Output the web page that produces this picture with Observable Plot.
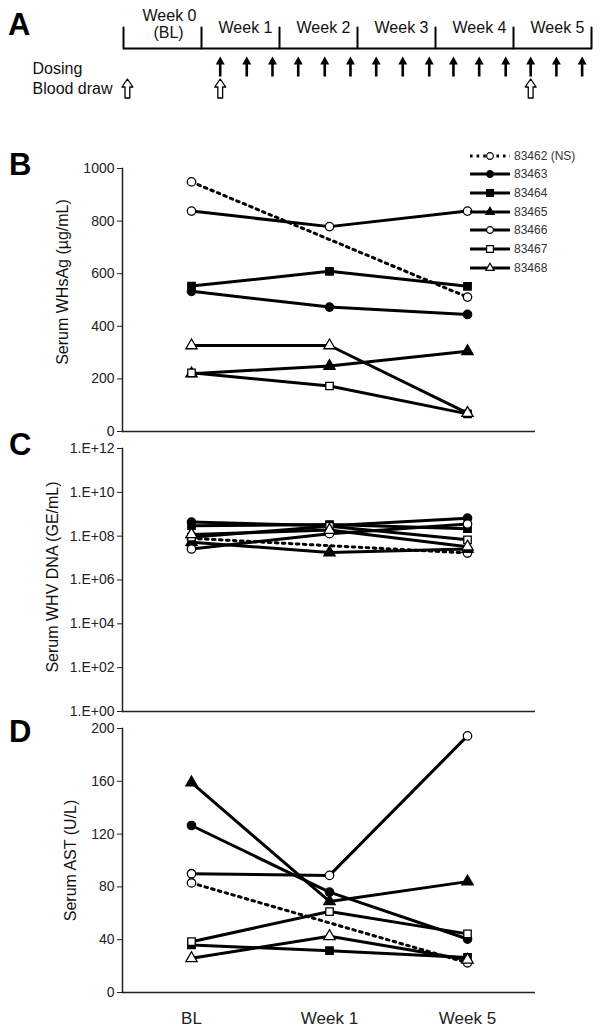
<!DOCTYPE html>
<html><head><meta charset="utf-8">
<script src="https://cdn.jsdelivr.net/npm/d3@7"></script>
<script src="https://cdn.jsdelivr.net/npm/@observablehq/plot@0.6"></script>
<style>
body{margin:0;background:#fff;}
#root{position:relative;width:601px;height:1032px;overflow:hidden;font-family:"Liberation Sans",Arial,sans-serif;color:#222;}
.panel{position:absolute;left:0;}
.letter{position:absolute;font-weight:bold;font-size:31px;line-height:1;color:#000;}
.lrow{position:absolute;left:470px;height:16px;font-size:12px;line-height:16px;color:#333;white-space:nowrap;}
.lrow svg{position:absolute;left:0;top:0;}
.lrow span{position:absolute;left:44px;top:0;}
</style></head><body><div id="root"></div>
<script>
// ---------- data ----------
const animals = ["83462 (NS)","83463","83464","83465","83466","83467","83468"];
const markerSymbols = ["circle","circle","square","triangle","circle","square","triangle"];
const markerFills = ["white","black","black","black","white","white","white"];
const timepoints = ["BL","Week 1","Week 5"];

// Panel B: serum WHsAg (µg/mL), rows follow animals, columns follow timepoints
const whsagValues = [
  [949, null, 511],
  [533, 473, 445],
  [553, 609, 552],
  [220, 249, 305],
  [838, 779, 838],
  [223, 173, 67],
  [327, 327, 70]
];
const whsagTicks = [0, 200, 400, 600, 800, 1000];

// Panel C: serum WHV DNA (GE/mL)
const dnaValues = [
  [8.0e7, null, 1.7e7],
  [4.4e8, 3.0e8, 6.6e8],
  [3.0e8, 3.4e8, 2.2e8],
  [5.3e7, 1.8e7, 2.6e7],
  [2.6e7, 1.3e8, 3.6e8],
  [9.0e7, 2.8e8, 6.8e7],
  [1.2e8, 1.9e8, 3.3e7]
];
const dnaTicks = [1, 1e2, 1e4, 1e6, 1e8, 1e10, 1e12];

// Panel D: serum AST (U/L)
const astValues = [
  [83, null, 22.5],
  [126.5, 76, 40.5],
  [36, 31.7, 26.6],
  [159, 69, 84],
  [90, 88.7, 194.4],
  [38.5, 61.3, 44.4],
  [25.9, 42.6, 24.8]
];
const astTicks = [0, 40, 80, 120, 160, 200];

// Panel A: study schedule (in weeks)
const weekBounds = [0, 1, 2, 3, 4, 5, 6];
const weekLabels = ["Week 0", "Week 1", "Week 2", "Week 3", "Week 4", "Week 5"];
const baselineSubLabel = ["(BL)"];
const dosingWeeks = [1.24, 1.58, 1.91, 2.24, 2.58, 2.91, 3.24, 3.58, 3.92, 4.23, 4.56, 4.90, 5.22, 5.55, 5.88];
const bloodDrawWeeks = [0.05, 1.24, 5.22];
const rowLabels = ["Dosing", "Blood draw"];

// ---------- rendering ----------
const FONT = '"Liberation Sans", Arial, sans-serif';
const root = document.getElementById("root");

function place(el, top) {
  const wrap = document.createElement("div");
  wrap.className = "panel";
  wrap.style.top = top + "px";
  wrap.appendChild(el);
  root.appendChild(wrap);
}

// Panel A
const tickShape = {draw(c, l) { c.moveTo(0, 0); c.lineTo(0, -l); }};
const solidArrow = {draw(c, l) {
  const hw = 4.5, hh = 8, sw = 1.3;
  c.moveTo(-sw, 0); c.lineTo(-sw, -l + hh); c.lineTo(-hw, -l + hh); c.lineTo(0, -l);
  c.lineTo(hw, -l + hh); c.lineTo(sw, -l + hh); c.lineTo(sw, 0); c.closePath();
}};
const hollowArrow = {draw(c, l) {
  const hw = 5.5, hh = 8, sw = 2.4;
  c.moveTo(-sw, 0); c.lineTo(-sw, -l + hh); c.lineTo(-hw, -l + hh); c.lineTo(0, -l);
  c.lineTo(hw, -l + hh); c.lineTo(sw, -l + hh); c.lineTo(sw, 0); c.closePath();
}};

const panelA = Plot.plot({
  width: 601, height: 115, marginLeft: 123, marginRight: 10, marginTop: 0, marginBottom: 0,
  style: {fontFamily: FONT, color: "#000", background: "white"},
  x: {domain: [0, 6], axis: null},
  y: {type: "point", domain: ["timeline", ...rowLabels], range: [48, 88], padding: 0, axis: null},
  marks: [
    Plot.ruleY(["timeline"], {y: d => d, stroke: "#000", strokeWidth: 2}),
    Plot.vector(weekBounds, {x: d => d, y: () => "timeline", length: 21, rotate: 0, anchor: "start",
      shape: tickShape, stroke: "#000", strokeWidth: 2}),
    Plot.text(weekLabels, {filter: (d, i) => i > 0, x: (d, i) => weekBounds[i] + 0.5, y: () => "timeline",
      text: d => d, dx: 5, dy: -16, lineAnchor: "bottom", fontSize: 16, fill: "#111"}),
    Plot.text(weekLabels, {filter: (d, i) => i === 0, x: (d, i) => weekBounds[i] + 0.5, y: () => "timeline",
      text: d => d, dx: 7, dy: -28, lineAnchor: "bottom", fontSize: 16, fill: "#111"}),
    Plot.text(baselineSubLabel, {x: () => weekBounds[0] + 0.5, y: () => "timeline",
      text: d => d, dx: 6, dy: -11, lineAnchor: "bottom", fontSize: 16, fill: "#111"}),
    Plot.vector(dosingWeeks, {x: d => d, y: () => "Dosing", anchor: "middle", length: 20, rotate: 0,
      shape: solidArrow, fill: "#000", stroke: "none", dy: -2}),
    Plot.vector(bloodDrawWeeks, {x: d => d, y: () => "Blood draw", anchor: "middle", length: 19, rotate: 0,
      shape: hollowArrow, fill: "white", stroke: "#000", strokeWidth: 1.3}),
    Plot.text(rowLabels, {y: d => d, frameAnchor: "left", dx: -91, textAnchor: "start", fontSize: 16,
      text: d => d, fill: "#111"})
  ]
});
place(panelA, 0);

function tidy(values) {
  const out = [];
  animals.forEach((a, i) => timepoints.forEach((t, j) => {
    const v = values[i][j];
    if (v != null) out.push({animal: a, time: t, value: v, symbol: markerSymbols[i], fill: markerFills[i], ns: i === 0});
  }));
  return out;
}

function panel(o) {
  const data = tidy(o.values);
  const marks = [
    Plot.frame({anchor: "left", stroke: "#222", strokeWidth: 1.5}),
    Plot.ruleY([o.base], {stroke: "#222", strokeWidth: 1.5}),
    Plot.axisY({ticks: o.ticks, tickFormat: o.tickFormat, tickSize: 5, tickPadding: 3, label: null, fontSize: 14}),
    Plot.line(data.filter(d => d.ns), {x: "time", y: "value", stroke: "#000", strokeWidth: 3, strokeDasharray: "2.6,4.4"}),
    Plot.line(data.filter(d => !d.ns), {x: "time", y: "value", z: "animal", stroke: "#000", strokeWidth: 3}),
    Plot.dot(data, {x: "time", y: "value", symbol: d => d.symbol, fill: d => d.fill, stroke: "#000", strokeWidth: 1.3, r: 4.2}),
    Plot.text([o.label], {frameAnchor: "left", textAnchor: "middle", dx: o.labelDx, dy: o.labelDy, rotate: -90,
      fontSize: 16, text: d => d, fill: "#111"})
  ];
  if (o.xAxis) marks.push(Plot.axisX({tickSize: 0, tickPadding: 19, fontSize: 17, label: null}));
  return Plot.plot({
    width: 601, height: o.height, marginLeft: 122, marginRight: 66, marginTop: o.mt, marginBottom: o.mb,
    style: {fontFamily: FONT, color: "#222", background: "white", overflow: "visible"},
    x: {type: "point", domain: timepoints, padding: 0.49, axis: o.xAxis ? undefined : null},
    y: {type: o.type, domain: o.domain},
    marks
  });
}

place(panel({values: whsagValues, type: "linear", domain: [0, 1000], ticks: whsagTicks, base: 0,
  tickFormat: d => String(d),
  label: "Serum WHsAg (µg/mL)", labelDx: -60, labelDy: -18, height: 300, mt: 28, mb: 9}), 140);

place(panel({values: dnaValues, type: "log", domain: [1, 1e12], ticks: dnaTicks, base: 1,
  tickFormat: d => "1.E+" + String(Math.round(Math.log10(d))).padStart(2, "0"),
  label: "Serum WHV DNA (GE/mL)", labelDx: -70, labelDy: -3, height: 280, mt: 8, mb: 9}), 440);

place(panel({values: astValues, type: "linear", domain: [0, 200], ticks: astTicks, base: 0,
  tickFormat: d => String(d),
  label: "Serum AST (U/L)", labelDx: -52, labelDy: 0, height: 312, mt: 8, mb: 40, xAxis: true}), 720);

// Legend (panel B)
const legendSymbols = {circle: d3.symbolCircle, square: d3.symbolSquare, triangle: d3.symbolTriangle};
const legendSizes = {circle: 36, square: 46, triangle: 30};
animals.forEach((a, i) => {
  const row = document.createElement("div");
  row.className = "lrow";
  row.style.top = (155.7 + 18.67 * i - 8) + "px";
  const s = markerSymbols[i];
  const path = d3.symbol(legendSymbols[s], legendSizes[s])();
  row.innerHTML = `<svg width="44" height="16"><line x1="0" x2="40" y1="8" y2="8" stroke="#000" stroke-width="3" ${i === 0 ? 'stroke-dasharray="2.6,4"' : ''}/><path d="${path}" transform="translate(20,8)" fill="${markerFills[i]}" stroke="#000" stroke-width="1.2"/></svg><span>${a}</span>`;
  root.appendChild(row);
});

// Panel letters
[["A", 8, 9], ["B", 9, 149], ["C", 9, 429], ["D", 9, 716]].forEach(([t, x, y]) => {
  const d = document.createElement("div");
  d.className = "letter";
  d.textContent = t;
  d.style.left = x + "px";
  d.style.top = y + "px";
  root.appendChild(d);
});
</script></body></html>
